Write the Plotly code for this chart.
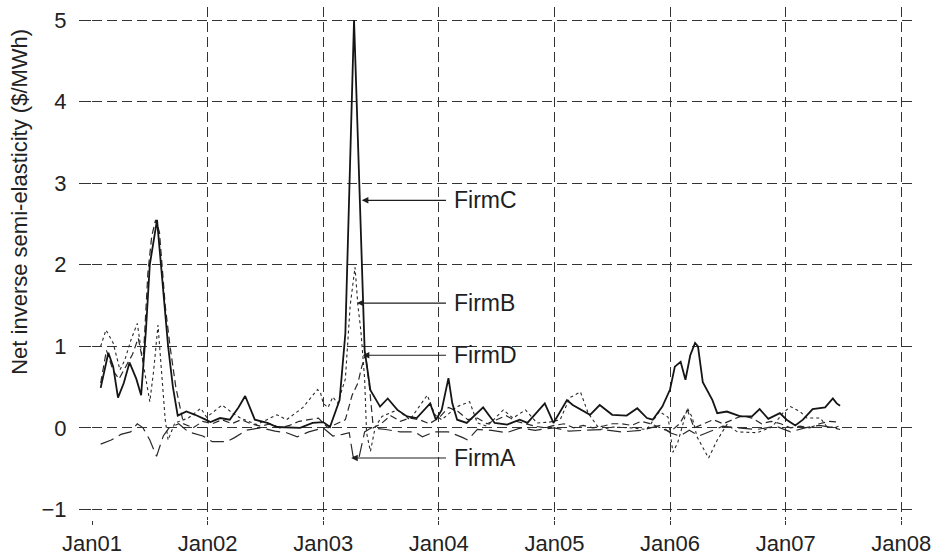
import plotly.graph_objects as go

# time in months since Jan 2001, values in $/MWh
firmC_t = [0.9, 1.7, 2.2, 2.7, 3.3, 3.9, 4.6, 5.1, 5.6, 6.0, 6.75, 7.3, 7.9, 8.4, 8.9, 9.8, 10.7, 11.8,
           12.3, 13.3, 14.3, 15.2, 15.9, 16.9, 18.2, 19.2, 21.6, 22.9, 24.0, 24.7, 25.7, 26.3, 26.7, 27.2,
           27.8, 28.3, 28.9, 29.9, 30.7, 31.7, 32.7, 33.7, 35.1, 35.7, 36.3, 37.0, 37.4, 37.9, 38.9, 40.6,
           41.8, 43.1, 44.4, 45.2, 47.0, 47.9, 49.3, 49.9, 51.7, 52.7, 54.0, 55.5, 56.6, 57.6, 58.2, 59.2,
           60.0, 60.5, 61.1, 61.6, 62.1, 62.6, 62.9, 63.4, 64.4, 64.9, 65.9, 67.3, 68.5, 69.3, 70.2, 71.4,
           72.1, 73.0, 73.8, 74.8, 76.1, 76.9, 77.3, 77.65]
firmC_v = [0.49, 0.92, 0.75, 0.37, 0.55, 0.80, 0.60, 0.40, 1.20, 2.00, 2.55, 1.80, 1.00, 0.50, 0.15, 0.20, 0.16, 0.10,
           0.07, 0.12, 0.10, 0.25, 0.39, 0.10, 0.06, 0.01, 0.00, 0.06, 0.07, 0.01, 0.34, 1.16, 3.00, 5.00,
           2.80, 0.95, 0.46, 0.26, 0.36, 0.22, 0.14, 0.12, 0.30, 0.10, 0.22, 0.61, 0.30, 0.10, 0.06, 0.25,
           0.06, 0.04, 0.10, 0.06, 0.30, 0.06, 0.34, 0.28, 0.16, 0.28, 0.16, 0.15, 0.24, 0.12, 0.10, 0.26,
           0.47, 0.75, 0.81, 0.59, 0.89, 1.04, 1.00, 0.56, 0.34, 0.18, 0.20, 0.14, 0.14, 0.23, 0.11, 0.18,
           0.10, 0.03, 0.10, 0.23, 0.25, 0.36, 0.30, 0.27]

firmB_t = [0.9, 1.45, 2.2, 2.9, 3.4, 4.05, 4.7, 5.3, 6.0, 6.4, 6.85, 7.3, 7.6, 7.9, 8.6, 10.0, 11.3, 11.9,
           13.5, 14.6, 15.4, 17.1, 19.2, 20.2, 21.9, 23.4, 23.7, 24.0, 24.5, 25.0, 25.5, 26.3, 26.8, 27.3,
           27.6, 27.9, 28.3, 28.5, 28.9, 29.4, 30.1, 31.7, 33.0, 34.8, 35.6, 36.3, 37.9, 39.2, 40.0, 41.0,
           42.7, 43.7, 45.0, 46.2, 47.5, 48.6, 49.6, 50.7, 51.5, 52.7, 54.1, 55.9, 57.6, 58.9, 59.8, 60.3,
           60.8, 61.8, 62.3, 62.8, 64.0, 64.9, 65.9, 67.0, 69.0, 70.6, 71.7, 72.5, 73.5, 74.2, 75.6, 76.3,
           77.3, 77.65]
firmB_v = [1.00, 1.20, 1.04, 0.71, 0.83, 1.08, 1.28, 0.80, 0.32, 0.70, 1.26, 0.60, 0.10, -0.15, 0.06, 0.12, 0.24, 0.13,
           0.28, 0.18, 0.12, 0.04, 0.16, 0.10, 0.25, 0.47, 0.44, 0.30, 0.25, 0.38, 0.30, 0.60, 1.50, 1.97,
           1.50, 1.20, 0.60, -0.06, -0.29, 0.01, 0.14, 0.22, 0.10, 0.40, 0.16, 0.10, 0.26, 0.32, 0.06, 0.02,
           0.22, 0.12, 0.22, 0.06, 0.07, 0.10, 0.37, 0.44, 0.18, -0.02, 0.01, 0.00, -0.02, 0.20, 0.13, -0.30,
           -0.18, 0.24, 0.13, -0.11, -0.37, -0.15, 0.04, -0.05, -0.06, 0.01, 0.18, 0.26, 0.20, 0.12, 0.12, 0.01,
           0.01, 0.03]

firmD_t = [0.9, 1.5, 2.2, 2.8, 3.5, 4.2, 4.8, 5.3, 5.8, 6.2, 6.6, 7.0, 7.6, 8.1, 8.7, 9.1, 9.5, 10.5,
           11.5, 12.5, 13.5, 14.5, 15.5, 16.5, 17.5, 18.5, 19.5, 20.5, 21.5, 22.5, 23.5, 24.5, 25.5, 26.3,
           27.0, 27.6, 28.0, 28.4, 28.8, 29.2, 30.0, 31.0, 32.0, 33.0, 34.0, 35.0, 36.0, 37.0, 38.0, 39.0,
           40.0, 41.0, 42.0, 43.0, 44.0, 45.0, 46.0, 47.0, 48.0, 49.0, 50.0, 51.0, 52.0, 53.0, 54.0, 55.0,
           56.0, 57.0, 58.0, 59.0, 60.0, 61.0, 61.8, 62.5, 63.5, 64.5, 65.5, 66.5, 67.5, 68.5, 69.5, 70.5,
           71.5, 72.5, 73.5, 74.5, 75.5, 76.5, 77.65]
firmD_v = [0.55, 0.95, 0.70, 0.60, 0.75, 0.90, 1.10, 0.80, 1.90, 2.35, 2.55, 2.40, 1.50, 1.00, 0.50, 0.28, 0.05, 0.00,
           0.08, 0.05, 0.10, 0.05, 0.10, 0.05, 0.02, 0.05, 0.00, 0.03, 0.08, 0.10, 0.12, 0.00, 0.05, 0.10,
           0.40, 0.55, 0.75, 0.90, 0.50, 0.00, 0.05, 0.15, 0.08, 0.12, 0.10, 0.05, 0.12, 0.25, 0.20, 0.10,
           0.12, 0.05, 0.10, 0.15, 0.08, 0.05, 0.02, 0.00, 0.03, 0.05, 0.00, 0.03, 0.00, 0.02, 0.05, 0.05,
           0.03, 0.08, 0.05, 0.00, -0.05, 0.05, 0.22, 0.00, 0.05, 0.10, 0.05, 0.10, 0.15, 0.12, 0.05, 0.08,
           0.05, 0.00, 0.02, 0.00, 0.05, 0.08, 0.07]

firmA_t = [0.9, 2.0, 3.0, 4.0, 4.7, 5.3, 6.0, 6.7, 7.4, 8.0, 9.0, 10.0, 11.5, 12.5, 14.0, 14.8, 16.0, 17.5,
           19.0, 20.2, 21.3, 22.5, 24.0, 25.0, 26.0, 26.7, 27.1, 27.7, 28.3, 29.0, 30.5, 32.0, 33.5, 34.3,
           35.5, 37.0, 38.5, 39.0, 40.0, 41.5, 43.0, 44.5, 46.0, 48.0, 49.5, 51.0, 53.0, 55.0, 57.0, 59.0,
           60.0, 61.0, 62.0, 63.0, 64.0, 65.5, 67.0, 69.0, 71.0, 72.5, 74.0, 75.5, 77.0, 77.65]
firmA_v = [-0.20, -0.15, -0.08, -0.05, 0.05, 0.00, -0.15, -0.35, -0.10, 0.00, 0.05, -0.05, -0.10, -0.17, -0.17, -0.12, -0.03, 0.00,
           -0.04, -0.06, -0.11, -0.05, 0.00, -0.10, -0.08, -0.06, -0.35, -0.37, -0.05, 0.00, -0.02, -0.05, -0.05, -0.11,
           -0.05, -0.05, -0.12, -0.15, -0.02, -0.03, -0.06, 0.00, -0.03, 0.00, -0.04, -0.03, -0.02, -0.05, -0.03, 0.03,
           -0.06, -0.10, -0.03, -0.10, -0.05, 0.02, 0.00, -0.02, 0.02, -0.05, 0.00, 0.03, 0.00, -0.02]

year_ticks = [2001, 2002, 2003, 2004, 2005, 2006, 2007, 2008]
year_labels = ["Jan01", "Jan02", "Jan03", "Jan04", "Jan05", "Jan06", "Jan07", "Jan08"]
y_ticks = [-1, 0, 1, 2, 3, 4, 5]
y_title = "Net inverse semi-elasticity ($/MWh)"

# annotation targets: (label, head month, head value)
ann_labels = ["FirmC", "FirmB", "FirmD", "FirmA"]
ann_head_t = [28.0, 27.5, 28.1, 26.9]
ann_head_v = [2.79, 1.53, 0.89, -0.37]
ann_tail_t = 36.9
ann_text_t = 37.4


def to_year(ts):
    return [2001 + t / 12.0 for t in ts]


INK = "#1e1e1e"
FONT = "Liberation Sans, Arial, Helvetica, sans-serif"

fig = go.Figure()
fig.add_trace(go.Scatter(x=to_year(firmA_t), y=firmA_v, mode="lines", name="FirmA",
                         line=dict(color="#2a2a2a", width=1.2, dash="14px,6px")))
fig.add_trace(go.Scatter(x=to_year(firmD_t), y=firmD_v, mode="lines", name="FirmD",
                         line=dict(color="#2a2a2a", width=1.2, dash="7px,4px")))
fig.add_trace(go.Scatter(x=to_year(firmB_t), y=firmB_v, mode="lines", name="FirmB",
                         line=dict(color="#2a2a2a", width=1.1, dash="dot")))
fig.add_trace(go.Scatter(x=to_year(firmC_t), y=firmC_v, mode="lines", name="FirmC",
                         line=dict(color="#151515", width=1.8)))

for lab, ht, hv in zip(ann_labels, ann_head_t, ann_head_v):
    fig.add_annotation(x=2001 + ht / 12.0, y=hv, ax=2001 + ann_tail_t / 12.0, ay=hv,
                       xref="x", yref="y", axref="x", ayref="y", text="",
                       showarrow=True, arrowhead=2, arrowsize=1.1, arrowwidth=1.2, arrowcolor=INK)
    fig.add_annotation(x=2001 + ann_text_t / 12.0, y=hv, xref="x", yref="y", text=lab,
                       showarrow=False, xanchor="left", yanchor="middle",
                       font=dict(family=FONT, size=23, color=INK))

# y-axis title placed as rotated text
fig.add_annotation(x=-0.088, y=0.62, xref="paper", yref="paper", text=y_title,
                   showarrow=False, textangle=-90, xanchor="center", yanchor="middle",
                   font=dict(family=FONT, size=22, color="#222"))

fig.update_layout(
    width=931, height=557,
    margin=dict(l=92, r=19, t=7, b=37),
    paper_bgcolor="white", plot_bgcolor="white",
    showlegend=False,
    font=dict(family=FONT, size=22, color="#222"),
    xaxis=dict(range=[2001, 2008.093], tickmode="array", tickvals=year_ticks, ticktext=year_labels,
               showgrid=True, gridcolor="#333", griddash="10px,5px", gridwidth=1,
               zeroline=False, showline=False, ticks="outside", ticklen=4, tickcolor="#333",
               ticklabeloverflow="allow", automargin=False,
               tickfont=dict(size=22, color="#222")),
    yaxis=dict(range=[-1.13, 5.16], tickmode="array", tickvals=y_ticks,
               showgrid=True, gridcolor="#333", griddash="10px,5px", gridwidth=1,
               zeroline=False, showline=False, ticks="outside", ticklen=12, tickcolor="#333",
               ticklabelstandoff=8, automargin=False,
               tickfont=dict(size=22, color="#222")),
)

fig.write_html("out.html")
